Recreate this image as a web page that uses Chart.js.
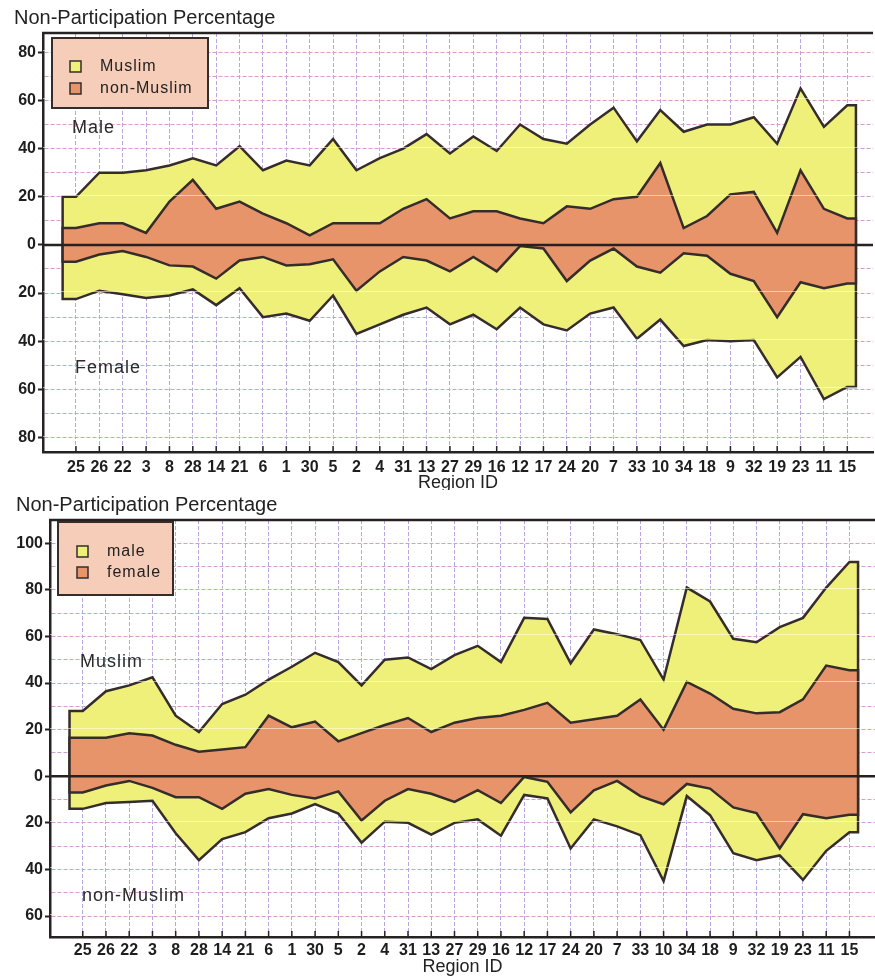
<!DOCTYPE html>
<html><head><meta charset="utf-8">
<script src="https://cdn.jsdelivr.net/npm/chart.js@4.4.1/dist/chart.umd.min.js"></script>
<style>
html,body{margin:0;padding:0;background:#fff;}
canvas{display:block;}
</style></head>
<body>
<canvas id="topChart" width="875" height="490" style="width:875px;height:490px"></canvas>
<canvas id="bottomChart" width="875" height="490" style="width:875px;height:490px"></canvas>
<script>
// ---------- DATA ----------
const regions = ['25','26','22','3','8','28','14','21','6','1','30','5','2','4','31','13','27','29','16','12','17','24','20','7','33','10','34','18','9','32','19','23','11','15'];

// Top panel: male (above 0) / female (below 0), by religion
const seriesTop = ['Muslim', 'non-Muslim'];
const maleMuslim      = [20,30,30,31,33,36,33,41,31,35,33,44,31,36,40,46,38,45,39,50,44,42,50,57,43,56,47,50,50,53,42,65,49,58];
const maleNonMuslim   = [7,9,9,5,18,27,15,18,13,9,4,9,9,9,15,19,11,14,14,11,9,16,15,19,20,34,7,12,21,22,5,31,15,11];
const femaleMuslim    = [-22.5,-19,-20.5,-22,-21,-18.5,-25,-18,-30,-28.5,-31.5,-21,-37,-33,-29,-26,-33,-29,-35,-26,-33,-35.5,-28.5,-26,-39,-31,-42,-39.5,-40,-39.5,-55,-46.5,-64,-59];
const femaleNonMuslim = [-7,-4,-2.5,-5,-8.5,-9,-14,-6.5,-5,-8.5,-8,-6,-19,-11,-5,-6.5,-11,-5,-11,-0.5,-1.5,-15,-6.5,-1.5,-9,-11.5,-3.5,-4.5,-12,-15,-30,-15.5,-18,-16];

// Bottom panel: Muslim (above 0) / non-Muslim (below 0), by sex
const seriesBottom = ['male', 'female'];
const muslimMale      = [28,36.5,39,42.5,26,19,31,35,41.5,47,53,49,39,50,51,46,52,56,49,68,67.5,48.5,63,61,58.5,41.5,81,75,59,57.5,64,68,81,92];
const muslimFemale    = [16.5,16.5,18.5,17.5,13.5,10.5,11.5,12.5,26,21,23.5,15,18.5,22,25,19,23,25,26,28.5,31.5,23,24.5,26,33,20,40.5,35.5,29,27,27.5,33,47.5,45.5];
const nonMuslimMale   = [-14,-11.5,-11,-10.5,-24.5,-36,-27,-24,-18,-16,-12,-16,-28.5,-19.5,-20,-25,-20,-18.5,-25.5,-8,-9.5,-31,-18.5,-21.5,-25.3,-45,-8.5,-16.7,-33,-36,-34,-44.5,-32,-24];
const nonMuslimFemale = [-7,-4,-2,-5,-9,-9,-14,-7.5,-5.5,-8,-9.5,-6.5,-19,-10.5,-5.5,-7.5,-11,-6,-11.5,-0.3,-2.4,-15.5,-6,-2,-8.5,-12,-3.3,-5.3,-13.4,-15.8,-31,-16.3,-18,-16.5];

// Tick labels on the y axes (absolute values are printed)
const yLabelsTop    = [-80,-60,-40,-20,0,20,40,60,80];
const yLabelsBottom = [-60,-40,-20,0,20,40,60,80,100];

// ---------- STYLE ----------
const YELLOW = '#eef07a';
const ORANGE = '#e8946a';
const LINE   = '#352c2c';
const DARK   = '#262222';
const FONT   = "'Liberation Sans', Arial, sans-serif";
const EXT_L = -0.57, EXT_R = 0.37;   // flat extension of the areas beyond first/last region

function areaPoints(vals) {
  const n = vals.length;
  const pts = [{x: EXT_L, y: 0}, {x: EXT_L, y: vals[0]}];
  vals.forEach((v, i) => pts.push({x: i, y: v}));
  pts.push({x: n - 1 + EXT_R, y: vals[n - 1]}, {x: n - 1 + EXT_R, y: 0});
  return pts;
}
function ds(label, vals, color) {
  return {label, data: areaPoints(vals), backgroundColor: color, borderColor: LINE,
          borderWidth: 2.5, pointRadius: 0, tension: 0, fill: 'origin', borderJoinStyle: 'miter'};
}

const decor = {
  id: 'decor',
  afterDatasetsDraw(chart, args, o) {
    const {ctx, chartArea: a, scales: {x, y}} = chart;
    ctx.save();
    // pale major grid lines visible through the fills
    ctx.strokeStyle = 'rgba(255,255,238,0.55)';
    ctx.lineWidth = 1.2;
    o.labels.forEach(v => {
      if (v === 0) return;
      const py = Math.round(y.getPixelForValue(v)) - 1.5;
      ctx.beginPath(); ctx.moveTo(a.left, py); ctx.lineTo(a.right, py); ctx.stroke();
    });
    // zero line
    ctx.strokeStyle = DARK; ctx.lineWidth = 2.5;
    const z = y.getPixelForValue(0);
    ctx.beginPath(); ctx.moveTo(a.left, z); ctx.lineTo(a.right, z); ctx.stroke();
    // top frame
    ctx.beginPath(); ctx.moveTo(a.left - 1, a.top); ctx.lineTo(a.right, a.top); ctx.stroke();
    // inward tick marks on x axis
    ctx.lineWidth = 1.5;
    x.ticks.forEach(t => {
      const px = x.getPixelForValue(t.value);
      ctx.beginPath(); ctx.moveTo(px, a.bottom); ctx.lineTo(px, a.bottom - 6); ctx.stroke();
    });
    ctx.restore();
  },
  afterDraw(chart, args, o) {
    const ctx = chart.ctx;
    ctx.save();
    // legend box
    const L = o.legend;
    ctx.fillStyle = '#f6cdb8';
    ctx.fillRect(L.x, L.y, L.w, L.h);
    ctx.strokeStyle = LINE; ctx.lineWidth = 2;
    ctx.strokeRect(L.x, L.y, L.w, L.h);
    ctx.font = '16px ' + FONT;
    try { ctx.letterSpacing = '1px'; } catch (e) {}
    ctx.textBaseline = 'middle';
    L.items.forEach((it, i) => {
      const sy = L.sy + i * L.gap;
      ctx.fillStyle = it.color;
      ctx.fillRect(L.sx, sy, 11, 11);
      ctx.strokeStyle = LINE; ctx.lineWidth = 1.5;
      ctx.strokeRect(L.sx, sy, 11, 11);
      ctx.fillStyle = '#222';
      ctx.fillText(it.text, L.tx, sy + 6);
    });
    // group notes
    ctx.font = '18px ' + FONT;
    ctx.fillStyle = '#2a2a2a';
    o.notes.forEach(n => ctx.fillText(n.text, n.x, n.y));
    ctx.restore();
  }
};

function makeChart(id, cfg) {
  return new Chart(document.getElementById(id), {
    type: 'line',
    data: {datasets: [
      ds(cfg.series[1], cfg.posB, ORANGE),
      ds(cfg.series[1], cfg.negB, ORANGE),
      ds(cfg.series[0], cfg.posA, YELLOW),
      ds(cfg.series[0], cfg.negA, YELLOW)
    ]},
    plugins: [decor],
    options: {
      responsive: false, animation: false, devicePixelRatio: 1,
      layout: {padding: {top: 0, right: cfg.padRight, bottom: 0, left: cfg.padLeft}},
      plugins: {
        legend: {display: false}, tooltip: {enabled: false},
        title: {display: true, text: 'Non-Participation Percentage', align: 'start',
                color: '#222', font: {family: FONT, size: 20, weight: 'normal', lineHeight: 1},
                padding: {top: cfg.titlePadTop, bottom: cfg.titlePadBottom}},
        decor: {
          labels: cfg.yLabels,
          legend: Object.assign({}, cfg.legendBox, {items: [
            {text: cfg.series[0], color: YELLOW}, {text: cfg.series[1], color: ORANGE}]}),
          notes: cfg.notes
        }
      },
      scales: {
        x: {
          type: 'linear', min: -1.41, max: 34.1,
          afterBuildTicks: ax => { ax.ticks = regions.map((_, i) => ({value: i})); },
          afterFit: ax => { ax.height = cfg.xHeight; },
          ticks: {callback: v => regions[v], autoSkip: false, maxRotation: 0, minRotation: 0,
                  color: '#1e1e1e', padding: cfg.xTickPad, font: {family: FONT, size: 16, weight: 'bold'}},
          grid: {color: '#b7a6e3', lineWidth: 1, drawTicks: false},
          border: {display: true, color: DARK, width: 2.5, dash: [4, 2]},
          title: {display: true, text: 'Region ID', color: '#222',
                  font: {family: FONT, size: 18, lineHeight: 1}, padding: {top: 0, bottom: cfg.xTitlePad}}
        },
        y: {
          min: cfg.yMin, max: cfg.yMax,
          afterBuildTicks: ax => {
            const t = [];
            for (let v = Math.ceil(cfg.yMin / 10) * 10; v <= cfg.yMax; v += 10) t.push({value: v});
            ax.ticks = t;
          },
          afterFit: ax => { ax.width = cfg.yWidth; },
          ticks: {callback: v => cfg.yLabels.includes(v) ? String(Math.abs(v)) : '',
                  color: '#1e1e1e', padding: 2, autoSkip: false,
                  font: {family: FONT, size: 16, weight: 'bold'}},
          grid: {color: c => (c.tick && c.tick.value === 0) ? 'rgba(0,0,0,0)' : '#d49ccf',
                 lineWidth: 1, drawTicks: true, tickLength: 5,
                 tickColor: c => (c.tick && cfg.yLabels.includes(c.tick.value)) ? DARK : 'rgba(0,0,0,0)',
                 tickWidth: 2},
          border: {display: true, color: DARK, width: 2.5, dash: [4, 2]}
        }
      }
    }
  });
}

makeChart('topChart', {
  series: seriesTop,
  posA: maleMuslim, posB: maleNonMuslim, negA: femaleMuslim, negB: femaleNonMuslim,
  yMin: -86, yMax: 88, yLabels: yLabelsTop,
  padLeft: 14, yWidth: 29, padRight: 2,
  titlePadTop: 8, titlePadBottom: 5,
  xHeight: 38, xTickPad: 6, xTitlePad: -2.5,
  legendBox: {x: 52, y: 38, w: 156, h: 70, sx: 70, sy: 61, gap: 22, tx: 100},
  notes: [{text: 'Male', x: 72, y: 128}, {text: 'Female', x: 75, y: 368}]
});

makeChart('bottomChart', {
  series: seriesBottom,
  posA: muslimMale, posB: muslimFemale, negA: nonMuslimMale, negB: nonMuslimFemale,
  yMin: -69, yMax: 110, yLabels: yLabelsBottom,
  padLeft: 16, yWidth: 34, padRight: 0,
  titlePadTop: 5, titlePadBottom: 5,
  xHeight: 43, xTickPad: 4, xTitlePad: 3.5,
  legendBox: {x: 58, y: 32, w: 115, h: 73, sx: 77, sy: 56, gap: 21, tx: 107},
  notes: [{text: 'Muslim', x: 80, y: 172}, {text: 'non-Muslim', x: 82, y: 406}]
});
</script>
</body></html>
